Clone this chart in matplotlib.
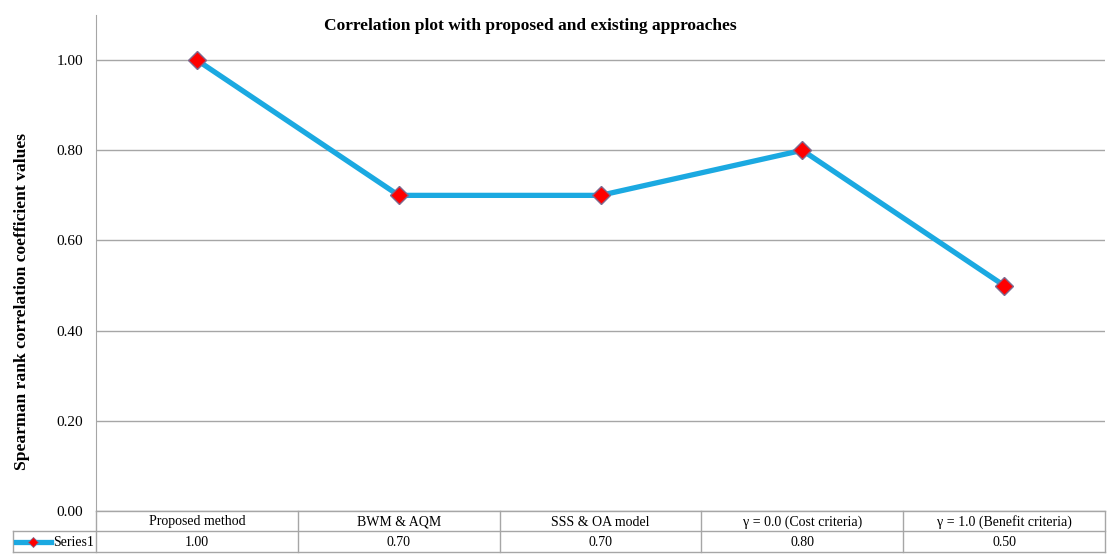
import numpy as np
import matplotlib.pyplot as plt
from matplotlib.lines import Line2D

categories = ["Proposed method", "BWM & AQM", "SSS & OA model",
              "\u03b3 = 0.0 (Cost criteria)", "\u03b3 = 1.0 (Benefit criteria)"]
values = [1.00, 0.70, 0.70, 0.80, 0.50]
yticks = [0.0, 0.2, 0.4, 0.6, 0.8, 1.0]
series_name = "Series1"

plt.rcParams["font.family"] = ["Liberation Serif", "DejaVu Serif"]

W, H = 1107, 554
fig = plt.figure(figsize=(W / 100, H / 100), dpi=100)
x0, x1, ytop, ybot = 96, 1105, 15, 511
ax = fig.add_axes([x0 / W, 1 - ybot / H, (x1 - x0) / W, (ybot - ytop) / H])

grid_c = "#A6A6A6"
line_c = "#1BA9E1"
x = np.arange(len(categories))
ax.plot(x, values, color=line_c, lw=3.8, marker="D", ms=9.5,
        mfc="#FF0000", mec="#7F6A8F", mew=1.0, zorder=3)

ax.set_xlim(-0.5, len(categories) - 0.5)
ax.set_ylim(0, 1.1)
ax.set_yticks(yticks)
ax.set_yticklabels([f"{v:.2f}" for v in yticks], fontsize=11)
ax.set_xticks([])
ax.grid(axis="y", color=grid_c, lw=1.0)
ax.set_axisbelow(True)
for s in ["top", "right", "bottom"]:
    ax.spines[s].set_visible(False)
ax.spines["left"].set_color(grid_c)
ax.tick_params(axis="y", length=0, pad=9.5)

fig.text(530 / W, 1 - 26 / H, "Correlation plot with proposed and existing approaches",
         ha="center", va="center", fontsize=12.5, fontweight="bold")
ax.set_ylabel("Spearman rank correlation coefficient values",
              fontsize=12.6, fontweight="bold", va="center")
ax.yaxis.set_label_coords((22 - x0) / (x1 - x0), (ybot - 301) / (ybot - ytop))

# data table below the axes
trans = fig.transFigure
def fx(px):
    return px / W
def fy(py):
    return 1 - py / H

r0, r1, r2 = 511, 531, 552
leg_left = 13
colw = (x1 - x0) / len(categories)
lines = []
lines.append(((x0, x1), (r0, r0)))
lines.append(((leg_left, x1), (r1, r1)))
lines.append(((leg_left, x1), (r2, r2)))
lines.append(((leg_left, leg_left), (r1, r2)))
lines.append(((x0, x0), (r0, r2)))
for i in range(1, len(categories) + 1):
    xx = x0 + i * colw
    lines.append(((xx, xx), (r0, r2)))
for (xs, ys) in lines:
    fig.add_artist(Line2D([fx(xs[0]), fx(xs[1])], [fy(ys[0]), fy(ys[1])],
                          transform=trans, color=grid_c, lw=1.0))

for i, (c, v) in enumerate(zip(categories, values)):
    cx = x0 + (i + 0.5) * colw
    fig.text(fx(cx), fy((r0 + r1) / 2 + 1), c, ha="center", va="center", fontsize=10)
    fig.text(fx(cx), fy((r1 + r2) / 2 + 1), f"{v:.2f}", ha="center", va="center", fontsize=10)

# legend key in table
ky = fy((r1 + r2) / 2)
fig.add_artist(Line2D([fx(16), fx(51)], [ky, ky], transform=trans, color=line_c, lw=3.8))
fig.add_artist(Line2D([fx(33)], [ky], transform=trans, marker="D", ms=5,
                      mfc="#FF0000", mec="#7F6A8F", mew=0.6, ls="none"))
fig.text(fx(53), fy((r1 + r2) / 2 + 1), series_name, ha="left", va="center", fontsize=10)

plt.savefig("out.png", dpi=100)
plt.close()
